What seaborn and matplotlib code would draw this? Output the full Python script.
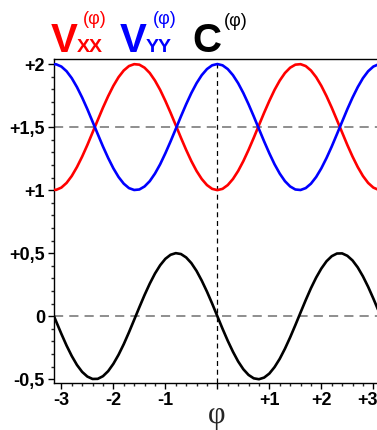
import numpy as np
import pandas as pd
import seaborn as sns
import matplotlib.pyplot as plt
import matplotlib.transforms as mtrans
from matplotlib.ticker import FixedLocator, MultipleLocator

# values, phi from -3.2 to +3.2 in steps of 0.1
phi = [-3.2, -3.1, -3.0, -2.9, -2.8, -2.7, -2.6, -2.5, -2.4, -2.3, -2.2, -2.1,
       -2.0, -1.9, -1.8, -1.7, -1.6, -1.5, -1.4, -1.3, -1.2, -1.1, -1.0, -0.9,
       -0.8, -0.7, -0.6, -0.5, -0.4, -0.3, -0.2, -0.1, 0.0,
       0.1, 0.2, 0.3, 0.4, 0.5, 0.6, 0.7, 0.8, 0.9, 1.0, 1.1, 1.2,
       1.3, 1.4, 1.5, 1.6, 1.7, 1.8, 1.9, 2.0, 2.1, 2.2, 2.3, 2.4,
       2.5, 2.6, 2.7, 2.8, 2.9, 3.0, 3.1, 3.2]
v_xx = [1.004, 1.002, 1.020, 1.057, 1.112, 1.183, 1.266, 1.358, 1.457, 1.556, 1.654, 1.745,
        1.827, 1.896, 1.949, 1.984, 1.999, 1.995, 1.971, 1.929, 1.869, 1.795, 1.708, 1.614,
        1.515, 1.415, 1.319, 1.230, 1.152, 1.088, 1.040, 1.010, 1.000,
        1.010, 1.040, 1.088, 1.152, 1.230, 1.319, 1.415, 1.515, 1.614, 1.708, 1.795, 1.869,
        1.929, 1.971, 1.995, 1.999, 1.984, 1.949, 1.896, 1.827, 1.745, 1.654, 1.556, 1.457,
        1.358, 1.266, 1.183, 1.112, 1.057, 1.020, 1.002, 1.004]
v_yy = [1.996, 1.998, 1.980, 1.943, 1.888, 1.817, 1.734, 1.642, 1.543, 1.444, 1.346, 1.255,
        1.173, 1.104, 1.051, 1.016, 1.001, 1.005, 1.029, 1.071, 1.131, 1.205, 1.292, 1.386,
        1.485, 1.585, 1.681, 1.770, 1.848, 1.912, 1.960, 1.990, 2.000,
        1.990, 1.960, 1.912, 1.848, 1.770, 1.681, 1.585, 1.485, 1.386, 1.292, 1.205, 1.131,
        1.071, 1.029, 1.005, 1.001, 1.016, 1.051, 1.104, 1.173, 1.255, 1.346, 1.444, 1.543,
        1.642, 1.734, 1.817, 1.888, 1.943, 1.980, 1.998, 1.996]
c_val = [0.058, -0.042, -0.140, -0.233, -0.316, -0.387, -0.442, -0.479, -0.498, -0.497, -0.476, -0.436,
         -0.378, -0.306, -0.222, -0.128, -0.029, 0.071, 0.168, 0.258, 0.338, 0.404, 0.455, 0.487,
         0.500, 0.493, 0.466, 0.421, 0.359, 0.282, 0.195, 0.100, 0.000,
         -0.100, -0.195, -0.282, -0.359, -0.421, -0.466, -0.493, -0.500, -0.487, -0.455, -0.404, -0.338,
         -0.258, -0.168, -0.071, 0.029, 0.128, 0.222, 0.306, 0.378, 0.436, 0.476, 0.497, 0.498,
         0.479, 0.442, 0.387, 0.316, 0.233, 0.140, 0.042, -0.058]

yticks = [-0.5, 0, 0.5, 1, 1.5, 2]
ytick_labels = ['-0,5', '0', '+0,5', '+1', '+1,5', '+2']
xticks = [-3, -2, -1, 0, 1, 2, 3]
xtick_labels = ['-3', '-2', '-1', '', '+1', '+2', '+3']

sns.set_style('ticks')
plt.rcParams['font.family'] = ['Liberation Sans', 'DejaVu Sans']

W, H = 377, 430
fig = plt.figure(figsize=(W / 100, H / 100), dpi=100)
ax = fig.add_axes([54 / W, 47 / H, 326.7 / W, 324 / H])

# dashed guide lines
ax.axhline(1.5, color='#707070', lw=1.1, ls=(0, (6, 4)), zorder=1)
ax.axhline(0, color='#707070', lw=1.1, ls=(0, (6, 4)), zorder=1)
ax.axvline(0, color='black', lw=0.9, ls=(0, (4, 3)), zorder=1)

sns.lineplot(x=phi, y=v_xx, color='#ff0000', lw=1.9, ax=ax, zorder=3)
sns.lineplot(x=phi, y=v_yy, color='#0000ff', lw=1.9, ax=ax, zorder=3)
sns.lineplot(x=phi, y=c_val, color='black', lw=1.9, ax=ax, zorder=3)

ax.set_xlim(-np.pi, np.pi)
ax.set_ylim(-0.53, 2.04)
ax.yaxis.set_major_locator(FixedLocator(yticks))
ax.set_yticklabels(ytick_labels)
ax.xaxis.set_major_locator(FixedLocator(xticks))
ax.set_xticklabels(xtick_labels)
ax.yaxis.set_minor_locator(MultipleLocator(0.1))
ax.xaxis.set_minor_locator(MultipleLocator(0.2))
ax.tick_params(which='major', direction='out', length=4.5, width=1, pad=2,
               labelsize=13, colors='black')
ax.tick_params(which='minor', direction='out', length=2.5, width=1)
for lab in ax.get_xticklabels() + ax.get_yticklabels():
    lab.set_fontweight('bold')
# keep the +3 label inside the picture
last = ax.get_xticklabels()[-1]
last.set_ha('right')
last.set_transform(last.get_transform() + mtrans.ScaledTranslation(4 / 100, 0, fig.dpi_scale_trans))
ax.spines['right'].set_visible(False)
for s in ['left', 'bottom', 'top']:
    ax.spines[s].set_linewidth(1)
    ax.spines[s].set_color('black')
ax.set_xlabel('')
ax.set_ylabel('')

# x axis label
fig.text(217 / W, 1 - 416 / H, 'φ', family='Liberation Serif', fontsize=22,
         ha='center', va='center')

# legend-like title
def put(x, y, s, color, size, weight='bold', va='baseline'):
    fig.text(x / W, 1 - y / H, s, color=color, fontsize=size, fontweight=weight,
             ha='left', va=va)

put(51, 52, 'V', '#ff0000', 29)
put(77, 52, 'XX', '#ff0000', 14)
put(83, 20, '(φ)', '#ff0000', 13, weight='normal', va='center')
put(120, 52, 'V', '#0000ff', 29)
put(146, 52, 'YY', '#0000ff', 14)
put(153, 20, '(φ)', '#0000ff', 13, weight='normal', va='center')
put(192, 52, 'C', 'black', 29)
put(224, 21, '(φ)', 'black', 13, weight='normal', va='center')

fig.savefig('out.png', dpi=100)
